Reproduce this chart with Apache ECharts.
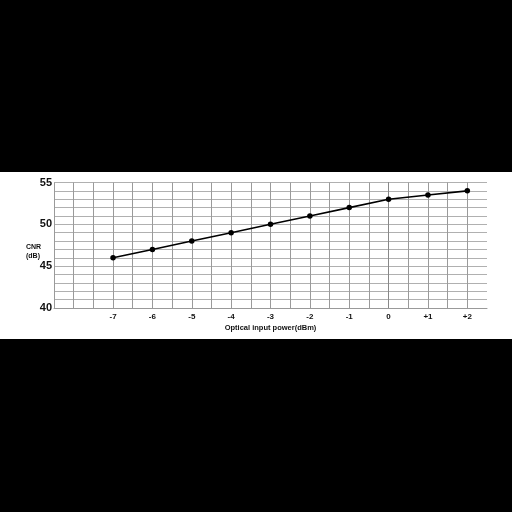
<!DOCTYPE html>
<html><head><meta charset="utf-8">
<script src="https://cdn.jsdelivr.net/npm/echarts@6/dist/echarts.min.js"></script>
<style>
html,body{margin:0;padding:0;background:#000;width:512px;height:512px;overflow:hidden}
#band{position:absolute;left:0;top:172px;width:512px;height:167px;background:#fff}
#c{position:absolute;left:0;top:0;width:512px;height:512px}
</style></head><body>
<div id="band"></div>
<div id="c"></div>
<script>
const xValues = [-7, -6, -5, -4, -3, -2, -1, 0, 1, 2];
const cnr = [46, 47, 48, 49, 50, 51, 52, 53, 53.5, 54];
const yTickLabels = [40, 45, 50, 55];
const xTickLabels = ['-7','-6','-5','-4','-3','-2','-1','0','+1','+2'];

const chart = echarts.init(document.getElementById('c'), null, {renderer:'canvas'});
const font = 'Liberation Sans, Arial, sans-serif';
chart.setOption({
  backgroundColor: 'transparent',
  animation: false,
  grid: {left: 54, right: 25, top: 182.5, bottom: 204, containLabel: false},
  xAxis: {
    type: 'value', min: -8.5, max: 2.5, interval: 0.5,
    axisLine: {show: true, lineStyle: {color: '#999', width: 1}},
    axisTick: {show: false},
    splitLine: {show: true, showMaxLine: false, lineStyle: {color: '#9a9a9a', width: 1}},
    axisLabel: {
      color: '#111', fontFamily: font, fontWeight: 'bold', fontSize: 8, margin: 5,
      formatter: function (v) {
        const i = xValues.indexOf(v);
        return i >= 0 ? xTickLabels[i] : '';
      }
    },
    name: 'Optical input power(dBm)', nameLocation: 'middle', nameGap: 16,
    nameTextStyle: {color: '#111', fontFamily: font, fontWeight: 'bold', fontSize: 7.5}
  },
  yAxis: {
    type: 'value', min: 40, max: 55, interval: 1,
    axisLine: {show: true, lineStyle: {color: '#888', width: 1}},
    axisTick: {show: false},
    splitLine: {show: true, lineStyle: {color: '#b0b0b0', width: 1}},
    axisLabel: {
      color: '#111', fontFamily: font, fontWeight: 'bold', fontSize: 11, margin: 2,
      formatter: function (v) { return yTickLabels.indexOf(v) >= 0 ? String(v) : ''; }
    }
  },
  graphic: [{
    type: 'text', left: 26, top: 243,
    style: {text: 'CNR\n(dB)', fill: '#111', font: 'bold 7px ' + font, lineHeight: 9}
  }],
  series: [{
    type: 'line',
    data: xValues.map((x, i) => [x, cnr[i]]),
    symbol: 'circle', symbolSize: 5.5,
    lineStyle: {color: '#000', width: 1.6},
    itemStyle: {color: '#000'}
  }]
});
</script></body></html>
